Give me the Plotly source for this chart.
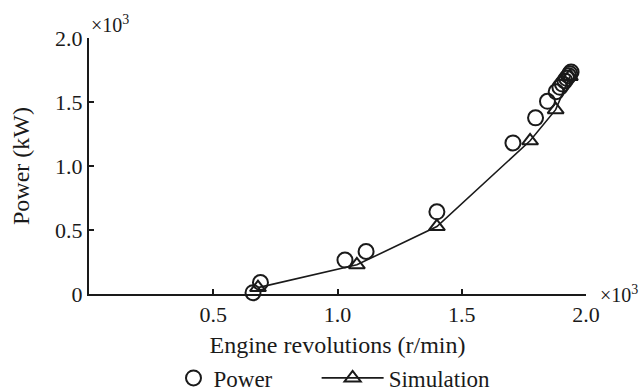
import plotly.graph_objects as go

# Measured power (kW) against engine speed (r/min)
power_rpm = [660, 690, 1030, 1115, 1400, 1706, 1797, 1845,
             1880, 1895, 1905, 1915, 1922, 1930, 1935, 1940]
power_kw = [10, 90, 265, 332, 642, 1180, 1376, 1505,
            1580, 1615, 1640, 1665, 1685, 1705, 1720, 1735]

# Simulated power curve
sim_rpm = [680, 1078, 1400, 1775, 1878, 1935]
sim_kw = [50, 228, 527, 1197, 1440, 1700]

x_ticks = [500, 1000, 1500, 2000]
x_ticktext = ["0.5", "1.0", "1.5", "2.0"]
y_ticks = [0, 500, 1000, 1500, 2000]
y_ticktext = ["0", "0.5", "1.0", "1.5", "2.0"]

FONT = "Liberation Serif"
INK = "#1a1a1a"

fig = go.Figure()

fig.add_trace(go.Scatter(
    x=sim_rpm, y=sim_kw, mode="lines+markers", name="Simulation",
    line=dict(color=INK, width=1.6),
    marker=dict(symbol="triangle-up-open", size=14, color=INK,
                line=dict(width=2, color=INK)),
    cliponaxis=False, legend="legend2",
))

fig.add_trace(go.Scatter(
    x=power_rpm, y=power_kw, mode="markers", name="Power",
    marker=dict(symbol="circle-open", size=15, color=INK,
                line=dict(width=2, color=INK)),
    cliponaxis=False, legend="legend",
))

axis_common = dict(
    showline=True, linecolor=INK, linewidth=2,
    ticks="inside", ticklen=5, tickwidth=1.5, tickcolor=INK,
    showgrid=False, zeroline=False,
    tickfont=dict(family=FONT, size=22, color=INK),
)

fig.update_xaxes(
    range=[0, 2000], tickvals=x_ticks, ticktext=x_ticktext,
    title=dict(text="Engine revolutions (r/min)",
               font=dict(family=FONT, size=24, color=INK), standoff=10),
    **axis_common,
)
fig.update_yaxes(
    range=[0, 2000], tickvals=y_ticks, ticktext=y_ticktext,
    title=dict(text="Power (kW)",
               font=dict(family=FONT, size=24, color=INK), standoff=19),
    **axis_common,
)

# Scale factors for both axes
fig.add_annotation(text="×10<sup>3</sup>", xref="paper", yref="paper",
                   x=0, y=1, xanchor="left", yanchor="bottom",
                   showarrow=False, font=dict(family=FONT, size=20, color=INK))
fig.add_annotation(text="×10<sup>3</sup>", xref="paper", yref="paper",
                   x=1, y=0, xanchor="left", yanchor="middle", xshift=12,
                   showarrow=False, font=dict(family=FONT, size=20, color=INK))

legend_font = dict(family=FONT, size=23, color=INK)
fig.update_layout(
    width=643, height=392,
    margin=dict(l=89, r=57, t=38, b=98, autoexpand=False),
    paper_bgcolor="white", plot_bgcolor="white",
    showlegend=True,
    legend=dict(orientation="h", x=0.17, y=-0.328, xanchor="left",
                yanchor="middle", font=legend_font, itemwidth=30,
                bgcolor="rgba(0,0,0,0)"),
    legend2=dict(orientation="h", x=0.458, y=-0.328, xanchor="left",
                 yanchor="middle", font=legend_font, itemwidth=62,
                 bgcolor="rgba(0,0,0,0)"),
)

fig.write_html("out.html")
